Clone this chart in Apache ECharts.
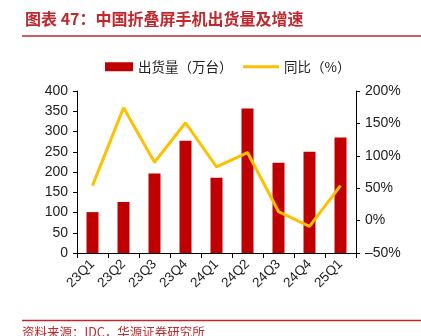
<!DOCTYPE html>
<html><head><meta charset="utf-8">
<script src="https://cdn.jsdelivr.net/npm/echarts@6/dist/echarts.min.js"></script>
<style>html,body{margin:0;padding:0;background:#fff;}#c{width:421px;height:336px;}</style>
</head><body><div id="c"></div>
<script>
const categories = ['23Q1','23Q2','23Q3','23Q4','24Q1','24Q2','24Q3','24Q4','25Q1'];
const shipments = [101, 126, 196, 277, 186, 357, 223, 250, 285];
const yoy = [54, 174, 90, 151, 83, 105, 14, -9, 54];
const leftTicks = {min: 0, max: 400, interval: 50};
const rightTicks = {min: -50, max: 200, interval: 50};
const titleText = '图表 47：中国折叠屏手机出货量及增速';
const sourceText = '资料来源：IDC，华源证券研究所';
const barName = '出货量（万台）';
const lineName = '同比（%）';

const font = '"Liberation Sans", Arial, "Noto Sans CJK SC", sans-serif';
const chart = echarts.init(document.getElementById('c'), null, {renderer: 'canvas'});
chart.setOption({
  animation: false,
  backgroundColor: '#fff',
  title: {
    text: titleText, left: 20, top: 6,
    textStyle: {color: '#C0282D', fontSize: 16, fontWeight: 'bold', fontFamily: '"Noto Sans CJK SC", sans-serif'}
  },
  graphic: [
    {type: 'line', shape: {x1: 22, y1: 36, x2: 421, y2: 36}, style: {stroke: '#C0282D', lineWidth: 1.5}},
    {type: 'line', shape: {x1: 22, y1: 320.5, x2: 421, y2: 320.5}, style: {stroke: '#C0282D', lineWidth: 1.5}},
    {type: 'text', left: 22, top: 326, style: {text: sourceText, fill: '#C0282D', fontSize: 12.5, fontFamily: '"Noto Sans CJK SC", sans-serif'}}
  ],
  legend: [
    {data: [{name: barName, icon: 'rect'}], left: 100, top: 55, itemWidth: 28, itemHeight: 9,
     textStyle: {fontSize: 13.5, color: '#222', fontFamily: '"Noto Sans CJK SC", sans-serif'}},
    {data: [{name: lineName, icon: 'rect'}], left: 238, top: 55, itemWidth: 36, itemHeight: 3,
     textStyle: {fontSize: 13.5, color: '#222', fontFamily: '"Noto Sans CJK SC", sans-serif'}}
  ],
  grid: {left: 77, right: 65, top: 91, bottom: 83, containLabel: false},
  xAxis: {
    type: 'category', data: categories,
    axisLine: {lineStyle: {color: '#000', width: 1}},
    axisTick: {show: true, alignWithLabel: false, length: 5, lineStyle: {color: '#000'}},
    axisLabel: {rotate: 45, fontSize: 13.5, color: '#222', fontFamily: font, margin: 9}
  },
  yAxis: [
    {type: 'value', min: leftTicks.min, max: leftTicks.max, interval: leftTicks.interval,
     splitLine: {show: false},
     axisLine: {show: true, lineStyle: {color: '#000'}},
     axisTick: {show: true, length: 4, lineStyle: {color: '#000'}},
     axisLabel: {fontSize: 14, color: '#222', fontFamily: font, margin: 9}},
    {type: 'value', min: rightTicks.min, max: rightTicks.max, interval: rightTicks.interval,
     splitLine: {show: false},
     axisLine: {show: true, lineStyle: {color: '#000'}},
     axisTick: {show: true, length: 4, lineStyle: {color: '#000'}},
     axisLabel: {fontSize: 14, color: '#222', fontFamily: font, margin: 9, formatter: v => (v < 0 ? '\u2013' + Math.abs(v) : v) + '%'}}
  ],
  series: [
    {name: barName, type: 'bar', data: shipments, barWidth: 12, yAxisIndex: 0,
     itemStyle: {color: '#C00000'}},
    {name: lineName, type: 'line', data: yoy, yAxisIndex: 1, symbol: 'none',
     lineStyle: {color: '#FFC000', width: 3}, itemStyle: {color: '#FFC000'}}
  ]
});
</script></body></html>
